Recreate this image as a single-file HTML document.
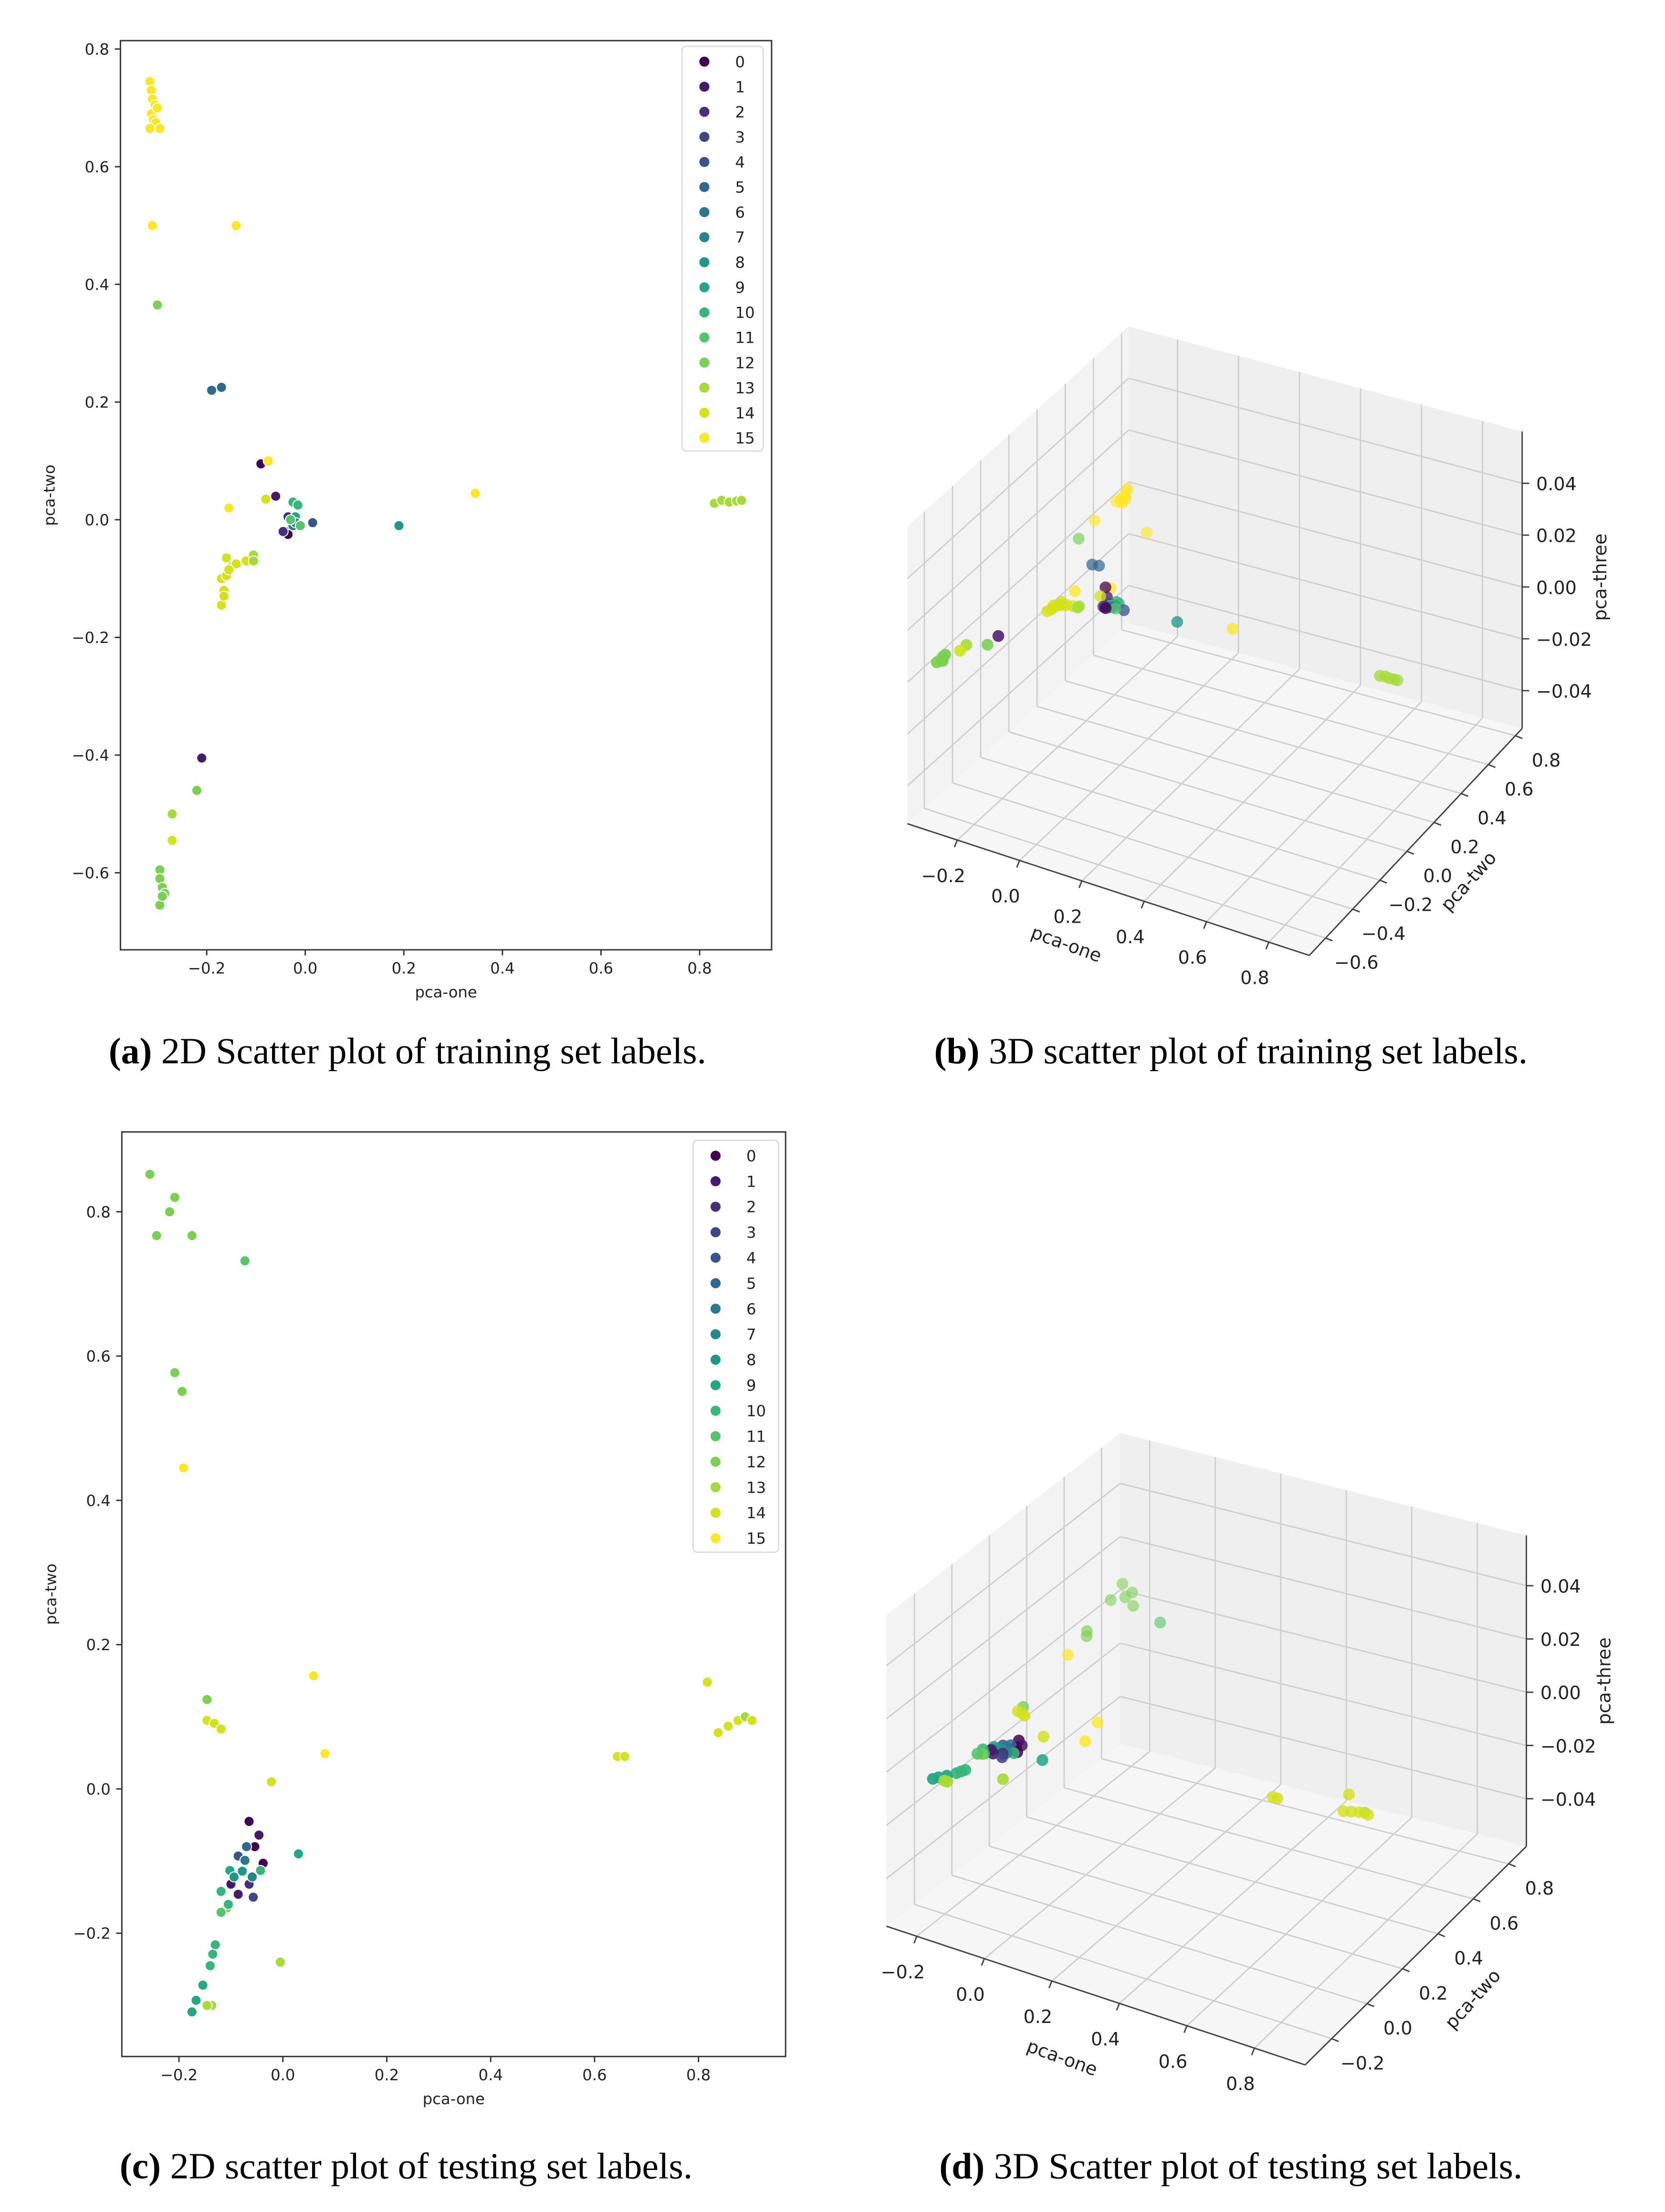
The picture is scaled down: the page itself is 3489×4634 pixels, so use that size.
<!DOCTYPE html>
<html><head><meta charset="utf-8"><style>
html,body{margin:0;padding:0;background:#fff;}
svg{display:block;}
text{font-family:"DejaVu Sans","Liberation Sans",sans-serif;fill:#222;}
.cap{font-family:"Liberation Serif",serif;font-size:26.5px;fill:#000;}
</style></head><body>
<svg id="fig" xmlns="http://www.w3.org/2000/svg" width="3489" height="4634" viewBox="0 0 1189 1579" preserveAspectRatio="none">
<text class="cap" x="291" y="759" text-anchor="middle"><tspan font-weight="bold">(a)</tspan> 2D Scatter plot of training set labels.</text>
<text class="cap" x="879" y="759" text-anchor="middle"><tspan font-weight="bold">(b)</tspan> 3D scatter plot of training set labels.</text>
<text class="cap" x="290" y="1555" text-anchor="middle"><tspan font-weight="bold">(c)</tspan> 2D scatter plot of testing set labels.</text>
<text class="cap" x="879" y="1555" text-anchor="middle"><tspan font-weight="bold">(d)</tspan> 3D Scatter plot of testing set labels.</text>
</svg>
<script>
const palette = ["#440154","#481a6c","#472f7d","#414487","#39568c","#31688e","#2a788e","#23888e","#1f988b","#22a884","#35b779","#54c568","#7ad151","#a5db36","#d2e21b","#fde725"];
const legendLabels = ["0","1","2","3","4","5","6","7","8","9","10","11","12","13","14","15"];

// Training set (panel a / b)
const trainX = [-0.315,-0.312,-0.31,-0.305,-0.312,-0.30,-0.308,-0.303,-0.315,-0.295,-0.31,-0.14,-0.30,-0.19,-0.17,-0.09,-0.075,-0.06,-0.08,-0.155,
 -0.035,-0.04,-0.035,-0.025,-0.02,-0.025,-0.015,-0.02,-0.01,-0.045,-0.03,0.015,0.19,0.345,0.83,0.845,0.86,0.875,0.885,
 -0.16,-0.15,-0.14,-0.12,-0.105,-0.105,-0.17,-0.16,-0.165,-0.17,-0.165,-0.155,-0.21,-0.22,-0.27,-0.27,-0.295,-0.295,-0.29,-0.285,-0.295,-0.29];
const trainY = [0.745,0.73,0.715,0.705,0.69,0.70,0.68,0.675,0.665,0.665,0.50,0.50,0.365,0.22,0.225,0.095,0.10,0.04,0.035,0.02,
 0.005,-0.02,-0.025,-0.01,0.005,0.03,0.025,-0.005,-0.01,-0.02,0.0,-0.005,-0.01,0.045,0.028,0.033,0.03,0.032,0.033,
 -0.065,-0.08,-0.075,-0.07,-0.06,-0.07,-0.10,-0.095,-0.12,-0.145,-0.13,-0.085,-0.405,-0.46,-0.50,-0.545,-0.595,-0.61,-0.625,-0.635,-0.655,-0.64];
const trainLab = [15,15,15,15,15,15,15,15,15,15,15,15,12,5,5,0,15,1,14,15,
 2,3,0,6,9,10,10,7,11,2,11,4,8,15,13,13,13,13,13,
 14,14,14,14,13,13,14,14,14,14,14,14,1,12,13,14,12,12,12,12,12,12];
const trainZ = [0.004,0.004,0.003,0.003,0.003,0.003,0.003,0.003,0.003,0.003,0.004,0.005,0.004,0.005,0.005,0.006,0.006,0.006,0.006,0.006,
 0.006,0.006,0.006,0.006,0.006,0.006,0.006,0.006,0.006,0.006,0.006,0.006,0.008,0.008,0.008,0.008,0.008,0.008,0.008,
 0.006,0.006,0.006,0.006,0.006,0.006,0.006,0.006,0.006,0.006,0.006,0.006,0.008,0.007,0.007,0.007,0.007,0.007,0.007,0.007,0.007,0.007];

// Testing set (panel c / d)
const testX = [-0.256,-0.208,-0.218,-0.243,-0.175,-0.073,-0.208,-0.194,-0.191,-0.146,-0.146,-0.132,-0.119,0.059,0.081,-0.022,0.644,0.658,0.817,0.838,0.857,0.876,0.89,0.903,0.03,-0.005,
 -0.065,-0.046,-0.054,-0.038,-0.07,-0.086,-0.102,-0.078,-0.10,-0.119,-0.065,-0.043,-0.086,-0.108,-0.119,-0.057,-0.105,-0.13,-0.135,-0.14,-0.154,-0.167,-0.175,-0.137,-0.146,-0.073,-0.059,-0.094];
const testY = [0.852,0.82,0.80,0.767,0.767,0.732,0.577,0.551,0.445,0.124,0.095,0.091,0.083,0.157,0.049,0.01,0.045,0.045,0.148,0.078,0.087,0.095,0.10,0.095,-0.09,-0.24,
 -0.045,-0.064,-0.08,-0.103,-0.08,-0.093,-0.113,-0.114,-0.132,-0.142,-0.132,-0.113,-0.146,-0.165,-0.171,-0.15,-0.16,-0.216,-0.229,-0.245,-0.272,-0.293,-0.309,-0.30,-0.30,-0.099,-0.122,-0.122];
const testLab = [12,12,12,12,12,11,12,12,15,12,14,14,14,15,15,14,14,14,14,14,14,14,13,14,9,13,
 0,1,0,0,5,4,9,8,1,10,2,10,1,12,11,3,10,10,10,10,9,9,9,13,13,6,7,8];
const testZ = [0.006,0.006,0.005,0.005,0.005,0.004,0.005,0.005,0.004,0.004,0.004,0.004,0.004,0.004,0.004,0.004,0.005,0.005,0.006,0.005,0.005,0.005,0.005,0.005,0.003,0.003,
 0.004,0.004,0.004,0.004,0.004,0.004,0.004,0.004,0.004,0.004,0.004,0.004,0.004,0.004,0.004,0.004,0.004,0.0,0.0,0.0,0.0,0.0,0.0,0.0,0.0,0.004,0.004,0.004];

const aXTicks = [-0.2,0.0,0.2,0.4,0.6,0.8];
const aYTicks = [-0.6,-0.4,-0.2,0.0,0.2,0.4,0.6,0.8];
const cXTicks = [-0.2,0.0,0.2,0.4,0.6,0.8];
const cYTicks = [-0.2,0.0,0.2,0.4,0.6,0.8];
const bUTicks = [-0.2,0.0,0.2,0.4,0.6,0.8];
const bVTicks = [-0.6,-0.4,-0.2,0.0,0.2,0.4,0.6,0.8];
const dVTicks = [-0.2,0.0,0.2,0.4,0.6,0.8];
const wTicks = [-0.04,-0.02,0.00,0.02,0.04];

const NS="http://www.w3.org/2000/svg";
const svg=document.getElementById('fig');
function mk(tag,attrs,parent){const e=document.createElementNS(NS,tag);for(const k in attrs)e.setAttribute(k,attrs[k]);(parent||svg).appendChild(e);return e;}
function fmt(v,d){let s=v.toFixed(d);if(v<-1e-9)s="\u2212"+s.slice(1);if(Math.abs(v)<1e-9)s=(0).toFixed(d);return s;}

function plot2D(cfg){
  const g=mk('g',{});
  
  
  const sx=v=>cfg.x0+v*cfg.xs, sy=v=>cfg.y0-v*cfg.ys;
  const frame=mk('rect',{x:cfg.L,y:cfg.T,width:cfg.R-cfg.L,height:cfg.B-cfg.T,fill:'#fff',stroke:'#333','stroke-width':1},g);
  
  
  cfg.xt.forEach(v=>{
    const t=mk('line',{x1:sx(v),x2:sx(v),y1:cfg.B,y2:cfg.B+4,stroke:'#333'},g);
    
    
    const l=mk('text',{x:sx(v),y:cfg.B+17,'font-size':11,'text-anchor':'middle'},g);l.textContent=fmt(v,1);
    
    
  });
  cfg.yt.forEach(v=>{
    const t=mk('line',{x1:cfg.L-4,x2:cfg.L,y1:sy(v),y2:sy(v),stroke:'#333'},g);
    
    
    const l=mk('text',{x:cfg.L-8,y:sy(v)+4,'font-size':11,'text-anchor':'end'},g);l.textContent=fmt(v,1);
    
    
  });
  const xl=mk('text',{x:(cfg.L+cfg.R)/2,y:cfg.B+34,'font-size':11,'text-anchor':'middle'},g);xl.textContent='pca-one';
  
  
  const yl=mk('text',{x:0,y:0,'font-size':11,'text-anchor':'middle',transform:`translate(${cfg.L-47},${(cfg.T+cfg.B)/2}) rotate(-90)`},g);yl.textContent='pca-two';
  
  
  cfg.X.forEach((x,i)=>{
    const c=mk('circle',{cx:sx(x),cy:sy(cfg.Y[i]),r:3.6,fill:palette[cfg.lab[i]],stroke:'#fff','stroke-width':0.7},g);
    
    
  });
  const lg=mk('g',{},g);
  
  
  const lb=mk('rect',{x:cfg.lgx,y:cfg.lgy,width:cfg.lgw,height:cfg.lgh,rx:3,fill:'#fff',stroke:'#ddd'},lg);
  
  
  legendLabels.forEach((s,i)=>{
    const yy=cfg.lgy+11+i*cfg.lgs;
    const m=mk('circle',{cx:cfg.lgx+16,cy:yy,r:3.6,fill:palette[i]},lg);
    
    
    const t=mk('text',{x:cfg.lgx+38,y:yy+4,'font-size':11},lg);t.textContent=s;
    
    
  });
}

plot2D({name:'panel-a-2d-scatter',L:86,R:551,T:29,B:678,x0:218,xs:352,y0:371,ys:420,xt:aXTicks,yt:aYTicks,X:trainX,Y:trainY,lab:trainLab,lgx:487,lgy:33,lgw:58,lgh:289,lgs:17.9});
plot2D({name:'panel-c-2d-scatter',L:87,R:561,T:808,B:1468,x0:202,xs:371,y0:1277,ys:515,xt:cXTicks,yt:cYTicks,X:testX,Y:testY,lab:testLab,lgx:495,lgy:814,lgw:61,lgh:294,lgs:18.2});

function plot3D(cfg){
  const g=mk('g',{});
  
  
  const un=x=>(x-cfg.u[0])/(cfg.u[1]-cfg.u[0]), vn=y=>(y-cfg.v[0])/(cfg.v[1]-cfg.v[0]), wn=z=>(z-cfg.w[0])/(cfg.w[1]-cfg.w[0]);
  function P(u,v,w){const a=(1-u)*(1-v),b=u*(1-v),c=u*v,d=(1-u)*v;
    return [a*cfg.L[0]+b*cfg.F[0]+c*cfg.R[0]+d*cfg.B[0], a*cfg.L[1]+b*cfg.F[1]+c*cfg.R[1]+d*cfg.B[1]-w*cfg.h];}
  function poly(pts,fill,name){const p=mk('polygon',{points:pts.map(q=>q.join(',')).join(' '),fill:fill,stroke:'none'},g);
    
    }
  poly([P(0,0,0),P(0,1,0),P(0,1,1),P(0,0,1)],'#f3f3f3','left-pane');
  poly([P(0,1,0),P(1,1,0),P(1,1,1),P(0,1,1)],'#efefef','back-pane');
  poly([P(0,0,0),P(1,0,0),P(1,1,0),P(0,1,0)],'#f6f6f6','floor-pane');
  function ln(a,b,col,wd,name){const l=mk('line',{x1:a[0],y1:a[1],x2:b[0],y2:b[1],stroke:col,'stroke-width':wd},g);
    
    }
  cfg.ut.forEach(x=>{const u=un(x);ln(P(u,0,0),P(u,1,0),'#cfcfcf',1,'gridline');ln(P(u,1,0),P(u,1,1),'#cfcfcf',1,'gridline');});
  cfg.vt.forEach(y=>{const v=vn(y);ln(P(0,v,0),P(1,v,0),'#cfcfcf',1,'gridline');ln(P(0,v,0),P(0,v,1),'#cfcfcf',1,'gridline');});
  cfg.wt.forEach(z=>{const w=wn(z);ln(P(0,0,w),P(0,1,w),'#cfcfcf',1,'gridline');ln(P(0,1,w),P(1,1,w),'#cfcfcf',1,'gridline');});
  ln(P(0,0,0),P(1,0,0),'#444',1,'x-axis-line');
  ln(P(1,0,0),P(1,1,0),'#444',1,'y-axis-line');
  ln(P(1,1,0),P(1,1,1),'#444',1,'z-axis-line');
  const idx=cfg.X.map((_,i)=>i).sort((a,b)=>vn(cfg.Y[b])-vn(cfg.Y[a]));
  idx.forEach(i=>{const q=P(un(cfg.X[i]),vn(cfg.Y[i]),wn(cfg.Z[i]));
    const c=mk('circle',{cx:q[0],cy:q[1],r:4.2,fill:palette[cfg.lab[i]],'fill-opacity':0.55+0.4*(1-vn(cfg.Y[i]))},g);
    
    });
  cfg.ut.forEach(x=>{const q=P(un(x),0,0);
    ln(q,[q[0]-2,q[1]+5],'#444',1,'x-tick');
    const t=mk('text',{x:q[0]-10,y:q[1]+30,'font-size':13,'text-anchor':'middle'},g);t.textContent=fmt(x,1);
    
    });
  cfg.vt.forEach(y=>{const q=P(1,vn(y),0);
    ln(q,[q[0]+5,q[1]+2],'#444',1,'y-tick');
    const t=mk('text',{x:q[0]+22,y:q[1]+22,'font-size':13,'text-anchor':'middle'},g);t.textContent=fmt(y,1);
    
    });
  cfg.wt.forEach(z=>{const q=P(1,1,wn(z));
    ln(q,[q[0]+5,q[1]],'#444',1,'z-tick');
    const t=mk('text',{x:q[0]+10,y:q[1]+5,'font-size':13},g);t.textContent=fmt(z,2);
    
    });
  const a1=mk('text',{x:0,y:0,'font-size':13,'text-anchor':'middle',transform:`translate(${cfg.l1[0]},${cfg.l1[1]}) rotate(20)`},g);a1.textContent='pca-one';
  
  
  const a2=mk('text',{x:0,y:0,'font-size':13,'text-anchor':'middle',transform:`translate(${cfg.l2[0]},${cfg.l2[1]}) rotate(-48)`},g);a2.textContent='pca-two';
  
  
  const a3=mk('text',{x:0,y:0,'font-size':13,'text-anchor':'middle',transform:`translate(${cfg.l3[0]},${cfg.l3[1]}) rotate(-90)`},g);a3.textContent='pca-three';
  
  
}

plot3D({name:'panel-b-3d-scatter',L:[648,588],F:[935,682],R:[1087,520],B:[806,445],h:212,u:[-0.36,0.93],v:[-0.72,0.85],w:[-0.0546,0.0600],
  ut:bUTicks,vt:bVTicks,wt:wTicks,X:trainX,Y:trainY,Z:trainZ,lab:trainLab,l1:[760,678],l2:[1052,632],l3:[1147,412]});
plot3D({name:'panel-d-3d-scatter',L:[633,1375],F:[932,1474],R:[1090,1318],B:[800,1245],h:222,u:[-0.29,0.95],v:[-0.35,0.90],w:[-0.0579,0.0589],
  ut:bUTicks,vt:dVTicks,wt:wTicks,X:testX,Y:testY,Z:testZ,lab:testLab,l1:[757,1473],l2:[1055,1430],l3:[1150,1200]});
</script>
</body></html>
